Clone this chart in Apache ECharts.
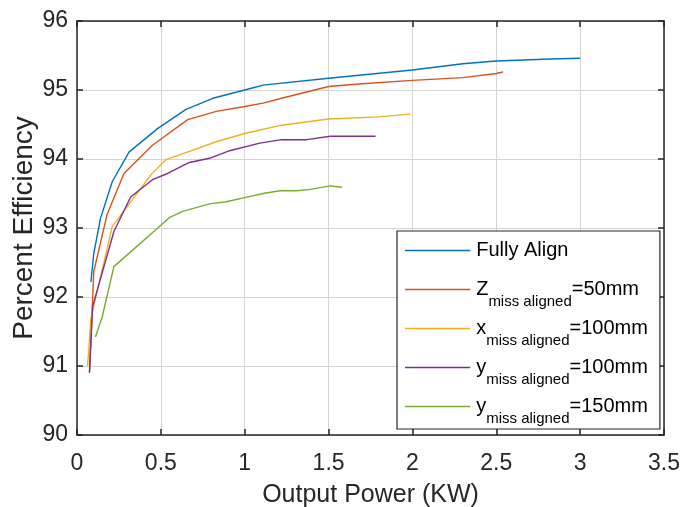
<!DOCTYPE html>
<html>
<head>
<meta charset="utf-8">
<script src="https://cdn.jsdelivr.net/npm/echarts@6/dist/echarts.min.js"></script>
<style>
html,body{margin:0;padding:0;background:#fff;}
#chart{width:680px;height:507px;}
</style>
</head>
<body>
<div id="chart"></div>
<script>
// ---- data ----
const seriesNames = ['Fully Align', 'Z miss aligned=50mm', 'x miss aligned=100mm', 'y miss aligned=100mm', 'y miss aligned=150mm'];
const legendMain = ['Fully Align', 'Z', 'x', 'y', 'y'];
const legendSub = ['', 'miss aligned', 'miss aligned', 'miss aligned', 'miss aligned'];
const legendTail = ['', '=50mm', '=100mm', '=100mm', '=150mm'];
const xTicks = [0, 0.5, 1, 1.5, 2, 2.5, 3, 3.5];
const yTicks = [90, 91, 92, 93, 94, 95, 96];
const fullyAlign = [[0.083,92.22],[0.10,92.63],[0.14,93.14],[0.21,93.67],[0.31,94.10],[0.48,94.44],[0.65,94.72],[0.81,94.88],[1.0,95.0],[1.11,95.07],[1.5,95.17],[2.0,95.29],[2.3,95.38],[2.5,95.42],[2.82,95.45],[3.0,95.46]];
const zMiss50 = [[0.075,90.92],[0.10,92.37],[0.18,93.20],[0.28,93.79],[0.45,94.20],[0.66,94.57],[0.83,94.69],[1.0,94.76],[1.11,94.81],[1.22,94.88],[1.5,95.05],[1.7,95.09],[2.0,95.14],[2.3,95.18],[2.5,95.24],[2.54,95.26]];
const xMiss100 = [[0.063,91.00],[0.083,91.69],[0.21,93.02],[0.44,93.77],[0.53,93.99],[0.67,94.11],[0.83,94.25],[1.0,94.37],[1.22,94.49],[1.5,94.58],[1.8,94.61],[1.99,94.65]];
const yMiss100 = [[0.074,90.90],[0.093,91.86],[0.22,92.95],[0.32,93.45],[0.45,93.70],[0.54,93.79],[0.67,93.95],[0.79,94.01],[0.91,94.12],[1.09,94.23],[1.22,94.28],[1.37,94.28],[1.51,94.33],[1.78,94.33]];
const yMiss150 = [[0.11,91.42],[0.15,91.71],[0.22,92.44],[0.50,93.04],[0.55,93.15],[0.63,93.24],[0.79,93.35],[0.89,93.38],[1.0,93.44],[1.11,93.50],[1.21,93.54],[1.31,93.54],[1.39,93.56],[1.51,93.61],[1.58,93.59]];
const seriesData = [fullyAlign, zMiss50, xMiss100, yMiss100, yMiss150];
const colors = ['#0072BD', '#D95319', '#EDB120', '#7E2F8E', '#77AC30'];

const FONT = "'Liberation Sans', Arial, Helvetica, sans-serif";
const TXT = '#262626';
// legend line icon: thin bar centred in a tall box (tiny corner marks fix the box size)
const LEGEND_ICON = 'path://M0,0L0.1,0L0.1,0.1Z M0,19.2L67,19.2L67,20.8L0,20.8Z M0,39.9L0.1,39.9L0.1,40Z';

const chart = echarts.init(document.getElementById('chart'), null, {renderer: 'canvas'});

const axisCommon = {
  type: 'value',
  axisLine: {show: true, onZero: false, lineStyle: {color: TXT, width: 1.5}},
  axisTick: {show: true, inside: true, length: 6, lineStyle: {color: TXT, width: 1.5}},
};

const option = {
  backgroundColor: '#ffffff',
  animation: false,
  color: colors,
  grid: {left: 77, right: 16, top: 21, bottom: 72, containLabel: false, outerBoundsMode: 'none'},
  xAxis: [
    Object.assign({}, axisCommon, {
      min: xTicks[0], max: xTicks[xTicks.length - 1], interval: 0.5,
      position: 'bottom',
      name: 'Output Power (KW)', nameLocation: 'middle', nameGap: 48, nameMoveOverlap: false,
      nameTextStyle: {fontFamily: FONT, fontSize: 25, color: TXT},
      axisLabel: {show: true, margin: 17, fontFamily: FONT, fontSize: 23, color: TXT,
        formatter: v => String(v)},
      splitLine: {show: true, lineStyle: {color: '#d4d4d4', width: 1}}
    }),
    Object.assign({}, axisCommon, {
      min: xTicks[0], max: xTicks[xTicks.length - 1], interval: 0.5,
      position: 'top', axisLabel: {show: false}, splitLine: {show: false}
    })
  ],
  yAxis: [
    Object.assign({}, axisCommon, {
      min: yTicks[0], max: yTicks[yTicks.length - 1], interval: 1,
      position: 'left',
      name: 'Percent Efficiency', nameLocation: 'middle', nameGap: 39, nameMoveOverlap: false,
      nameTextStyle: {fontFamily: FONT, fontSize: 28, color: TXT},
      axisLabel: {show: true, margin: 9, fontFamily: FONT, fontSize: 23, color: TXT, padding: [5, 0, 0, 0]},
      splitLine: {show: true, lineStyle: {color: '#d4d4d4', width: 1}}
    }),
    Object.assign({}, axisCommon, {
      min: yTicks[0], max: yTicks[yTicks.length - 1], interval: 1,
      position: 'right', axisLabel: {show: false}, splitLine: {show: false}
    })
  ],
  legend: {
    orient: 'vertical',
    left: 397, top: 231,
    padding: [0, 12, 3, 8],
    itemGap: 0,
    itemWidth: 67, itemHeight: 39,
    icon: LEGEND_ICON,
    backgroundColor: '#ffffff',
    borderColor: '#262626', borderWidth: 1.2, borderRadius: 0,
    data: seriesNames,
    formatter: function (name) {
      const i = seriesNames.indexOf(name);
      if (!legendSub[i]) return '{a|' + legendMain[i] + '}';
      return '{a|' + legendMain[i] + '}{b|' + legendSub[i] + '}{a|' + legendTail[i] + '}';
    },
    textStyle: {
      color: '#000', fontFamily: FONT, fontSize: 20,
      rich: {
        a: {fontFamily: FONT, fontSize: 20, color: '#000'},
        b: {fontFamily: FONT, fontSize: 15, color: '#000', padding: [24, 0, 0, 0]}
      }
    }
  },
  series: seriesNames.map((n, i) => ({
    name: n,
    type: 'line',
    xAxisIndex: 0, yAxisIndex: 0,
    data: seriesData[i],
    symbol: 'none',
    showSymbol: false,
    lineStyle: {width: 1.4, color: colors[i]},
    itemStyle: {color: colors[i]},
    emphasis: {disabled: true}
  }))
};
chart.setOption(option);
</script>
</body>
</html>
